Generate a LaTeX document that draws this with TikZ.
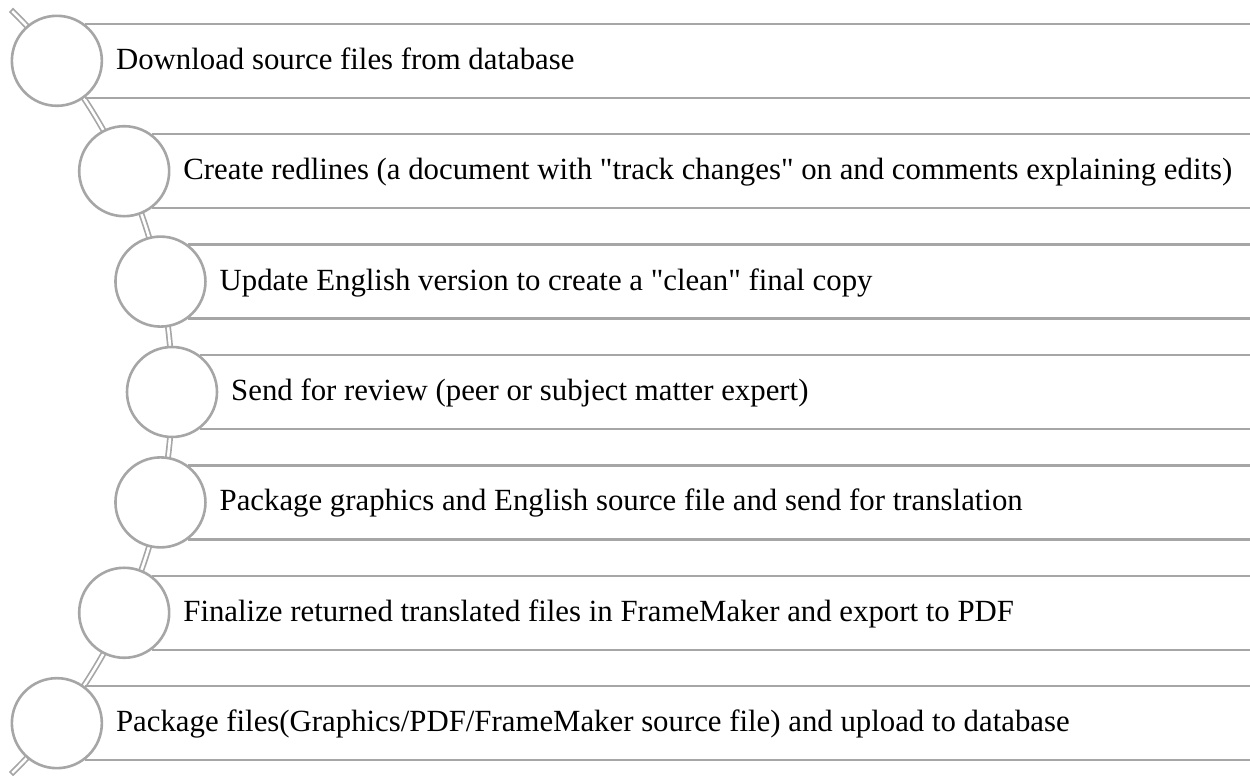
\documentclass[tikz,border=0pt]{standalone}
\usepackage{fontspec}
\setmainfont{Liberation Serif}[Ligatures=TeXOff]
\usetikzlibrary{calc}
\definecolor{linegray}{HTML}{A6A6A6}
\begin{document}
\begin{tikzpicture}[x=1pt,y=1pt,
  stepcircle/.style={circle, draw=linegray, line width=2.6pt, fill=white, minimum size=90pt, inner sep=0pt},
  hline/.style={draw=linegray, line width=2.4pt},
  steplabel/.style={anchor=base west, inner sep=0pt, font=\fontsize{30.8}{36}\selectfont, text=black},
  arcouter/.style={draw=linegray, line width=6pt},
  arcinner/.style={draw=white, line width=2.6pt},
]
\useasboundingbox (0,0) rectangle (1250,776);
\coordinate (arcc) at (-362,384);
\coordinate (rt) at (1250,0);
% connecting double arc
\draw[arcouter] (arcc) ++(45.7:534) arc[start angle=45.7, end angle=-45.7, radius=534];
\draw[arcinner] (arcc) ++(45.5:534) arc[start angle=45.5, end angle=-45.5, radius=534];
\foreach \i/\t in {
  1/{Download source files from database},
  2/{Create redlines (a document with "track changes" on and comments explaining edits)},
  3/{Update English version to create a "clean" final copy},
  4/{Send for review (peer or subject matter expert)},
  5/{Package graphics and English source file and send for translation},
  6/{Finalize returned translated files in FrameMaker and export to PDF},
  7/{Package files(Graphics/PDF/FrameMaker source file) and upload to database}} {
  \pgfmathsetmacro{\dy}{(4-\i)*110.4}
  \pgfmathsetmacro{\ang}{asin(\dy/534)}
  \node[stepcircle] (c\i) at ($(arcc)+(\ang:534)$) {};
  \draw[hline] (c\i.53.6) -- (c\i.53.6 -| rt);
  \draw[hline] (c\i.-53.6) -- (c\i.-53.6 -| rt);
  \node[steplabel] (t\i) at ($(c\i.center)+(59,-8.5)$) {\t};
}
\end{tikzpicture}
\end{document}
